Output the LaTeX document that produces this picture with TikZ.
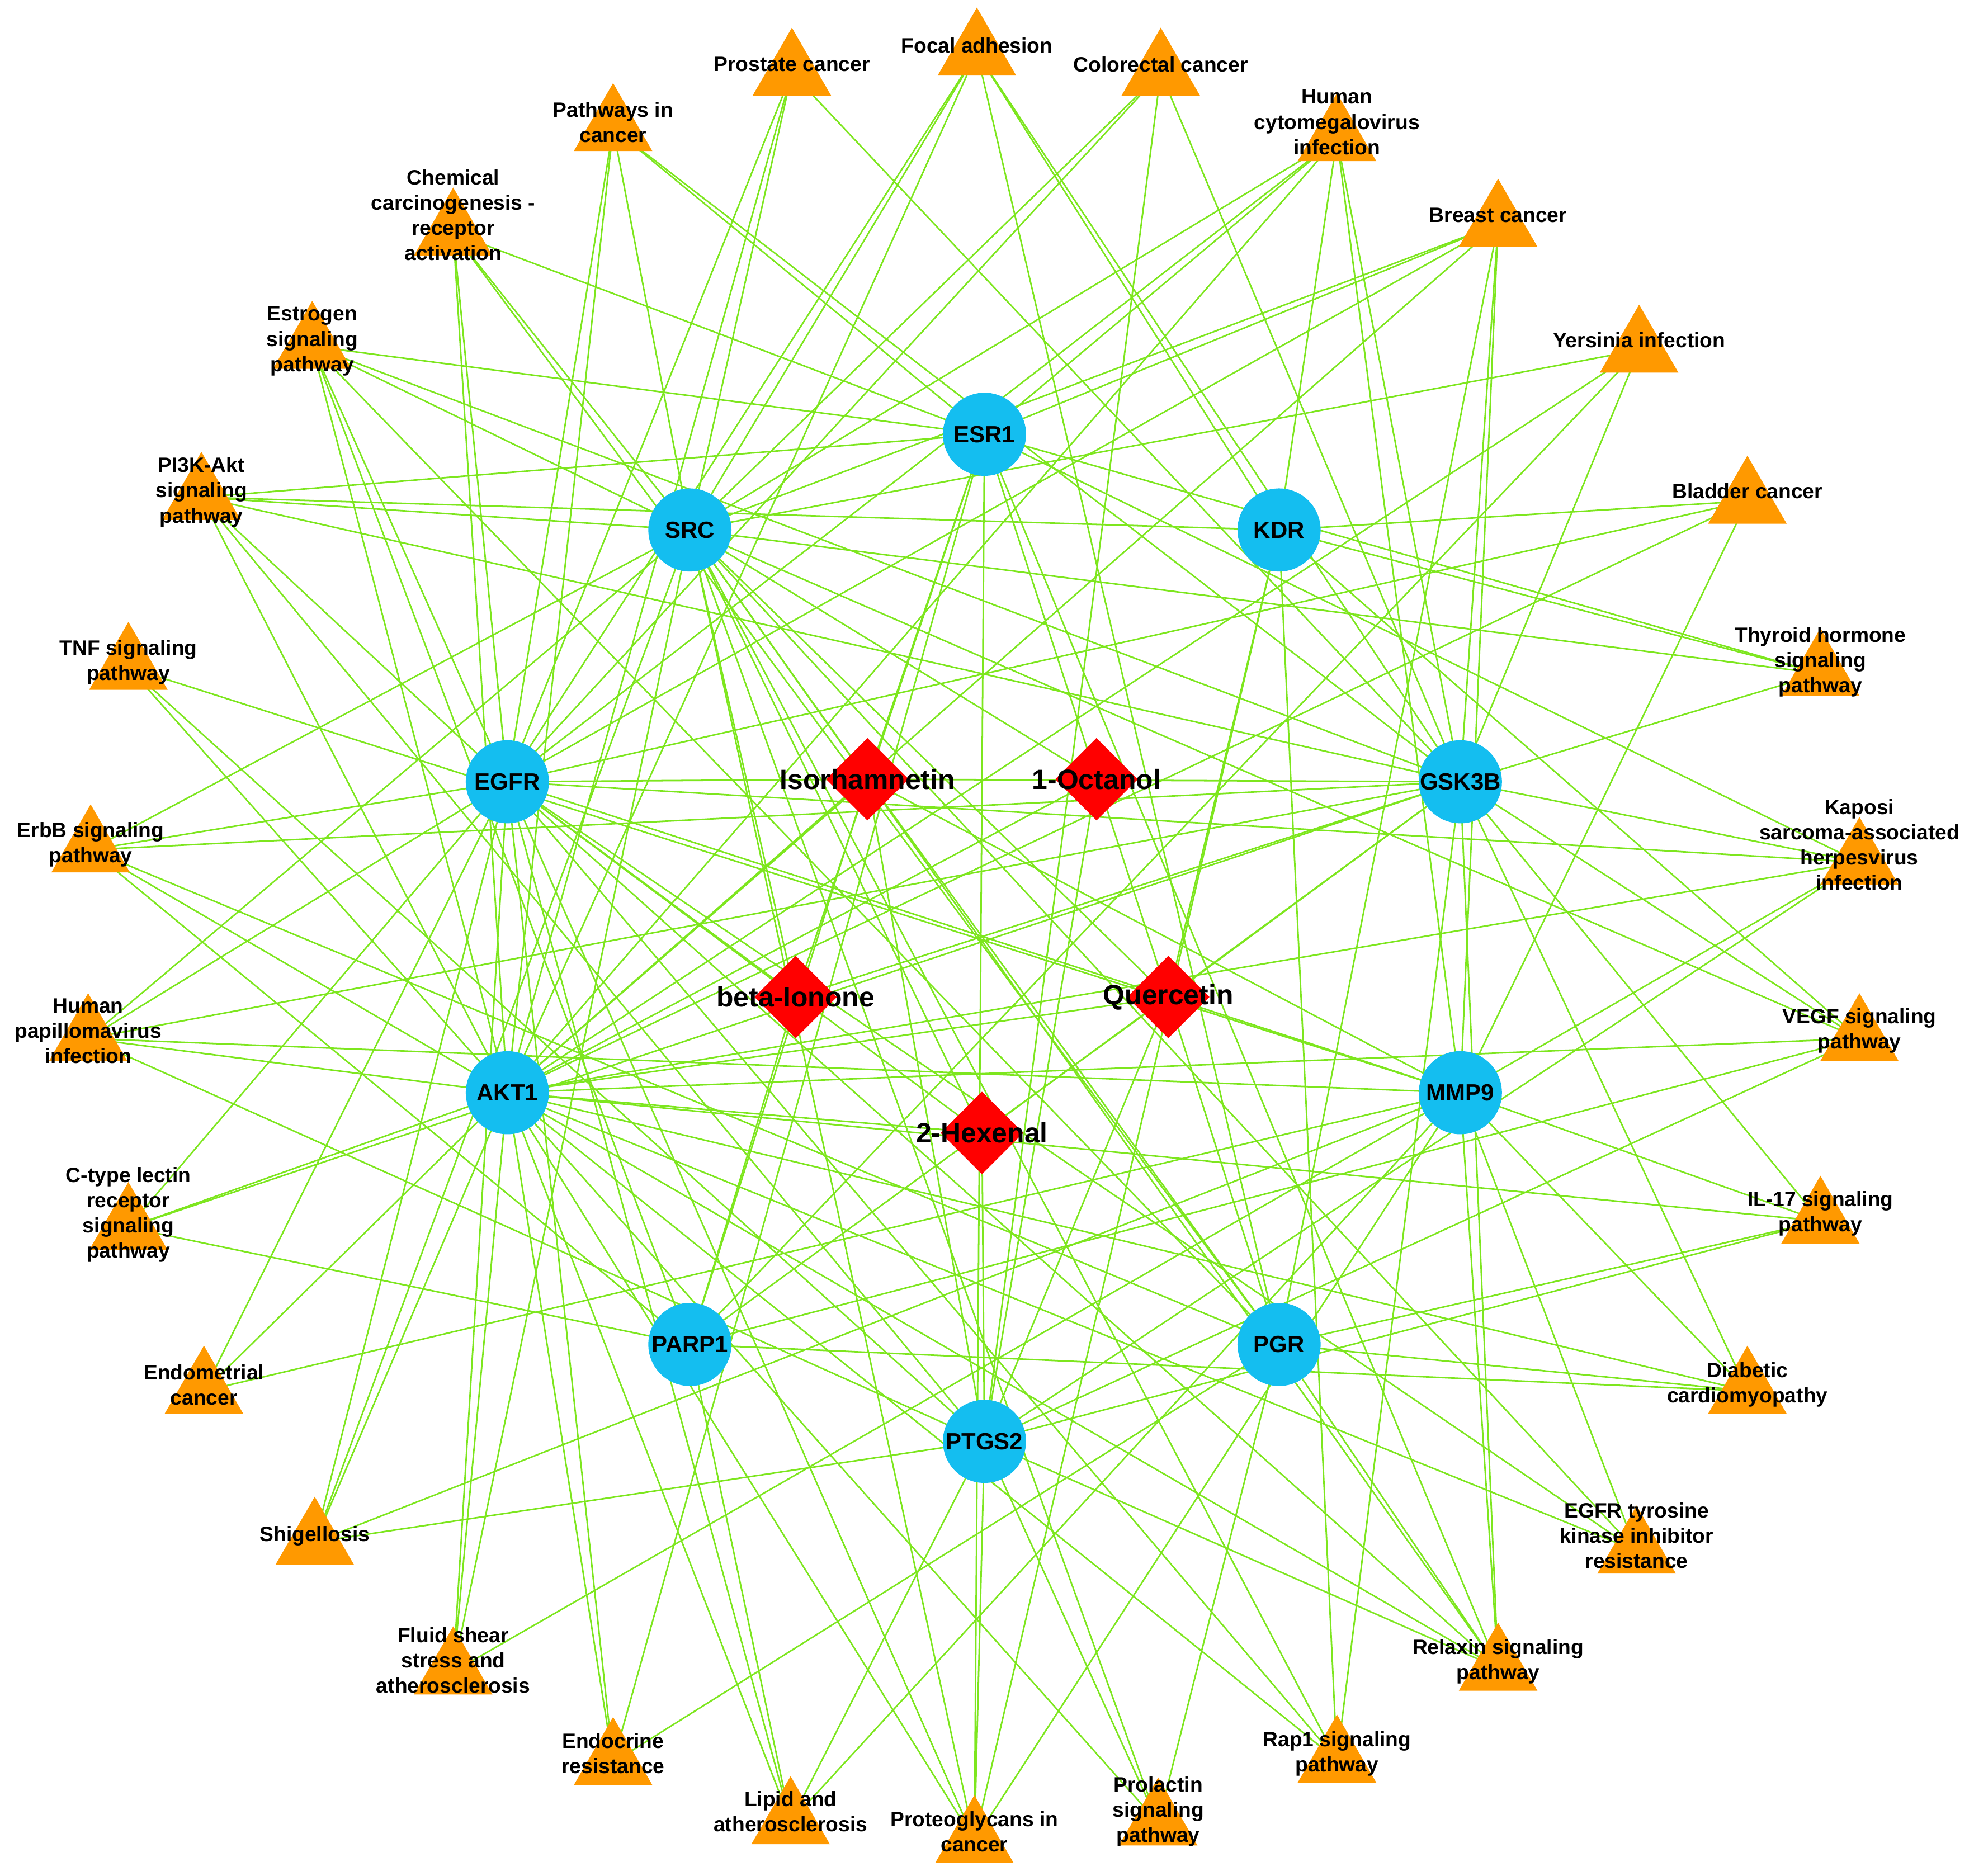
\documentclass[tikz,border=0pt]{standalone}
\usepackage{fontspec}
\setmainfont{Liberation Sans}
\usetikzlibrary{shapes.geometric,backgrounds}
\definecolor{edge}{RGB}{125,230,30}
\definecolor{tri}{RGB}{255,153,0}
\definecolor{tgt}{RGB}{20,190,240}
\definecolor{cmp}{RGB}{255,0,0}
\begin{document}
\begin{tikzpicture}[x=0.01cm,y=-0.01cm,
  pw/.style={regular polygon,regular polygon sides=3,fill=tri,draw=none,minimum size=0.72cm,inner sep=0},
  pwl/.style={font=\bfseries\fontsize{4.7}{5.7}\selectfont,align=center,text=black,inner sep=0},
  tg/.style={circle,fill=tgt,draw=none,minimum size=0.66cm,inner sep=0,font=\bfseries\fontsize{5.3}{6}\selectfont},
  cp/.style={diamond,aspect=1,fill=cmp,draw=none,minimum size=0.66cm,inner sep=0},
  cpl/.style={font=\bfseries\fontsize{6.3}{7}\selectfont,inner sep=0},
  ed/.style={edge,line width=0.35pt}]
\useasboundingbox (0,0) rectangle (1568,1490);
\newcommand\pwy[5]{\node[pw] (p#1) at (#2,#3) {}; \node[pwl] (pl#1) at (#2,#3-#4) {#5};}
\pwy{1}{776}{42}{6}{Focal adhesion}
\pwy{2}{922}{58}{7}{Colorectal cancer}
\pwy{3}{1062}{110}{13}{Human\\cytomegalovirus\\infection}
\pwy{4}{1190}{178}{7}{Breast cancer}
\pwy{5}{1302}{278}{8}{Yersinia infection}
\pwy{6}{1388}{398}{8}{Bladder cancer}
\pwy{7}{1446}{535}{9}{Thyroid hormone\\signaling\\pathway}
\pwy{8}{1477}{685}{14}{Kaposi\\sarcoma-associated\\herpesvirus\\infection}
\pwy{9}{1477}{825}{6}{VEGF signaling\\pathway}
\pwy{10}{1446}{970}{6}{IL-17 signaling\\pathway}
\pwy{11}{1388}{1105}{5}{Diabetic\\cardiomyopathy}
\pwy{12}{1300}{1232}{12}{EGFR tyrosine\\kinase inhibitor\\resistance}
\pwy{13}{1190}{1325}{5}{Relaxin signaling\\pathway}
\pwy{14}{1062}{1398}{5}{Rap1 signaling\\pathway}
\pwy{15}{920}{1448}{9}{Prolactin\\signaling\\pathway}
\pwy{16}{774}{1462}{7}{Proteoglycans in\\cancer}
\pwy{17}{628}{1447}{8}{Lipid and\\atherosclerosis}
\pwy{18}{487}{1400}{7}{Endocrine\\resistance}
\pwy{19}{360}{1328}{9}{Fluid shear\\stress and\\atherosclerosis}
\pwy{20}{250}{1225}{5}{Shigellosis}
\pwy{21}{162}{1105}{5}{Endometrial\\cancer}
\pwy{22}{102}{975}{10}{C-type lectin\\receptor\\signaling\\pathway}
\pwy{23}{70}{825}{6}{Human\\papillomavirus\\infection}
\pwy{24}{72}{675}{4}{ErbB signaling\\pathway}
\pwy{25}{102}{530}{4}{TNF signaling\\pathway}
\pwy{26}{160}{395}{4}{PI3K-Akt\\signaling\\pathway}
\pwy{27}{248}{275}{4}{Estrogen\\signaling\\pathway}
\pwy{28}{360}{185}{14}{Chemical\\carcinogenesis -\\receptor\\activation}
\pwy{29}{487}{102}{5}{Pathways in\\cancer}
\pwy{30}{629}{58}{7}{Prostate cancer}
\node[tg] (ESR1) at (782,345) {ESR1};
\node[tg] (SRC) at (548,421) {SRC};
\node[tg] (KDR) at (1016,421) {KDR};
\node[tg] (EGFR) at (403,621) {EGFR};
\node[tg] (GSK3B) at (1160,621) {GSK3B};
\node[tg] (AKT1) at (403,868) {AKT1};
\node[tg] (MMP9) at (1160,868) {MMP9};
\node[tg] (PARP1) at (548,1068) {PARP1};
\node[tg] (PGR) at (1016,1068) {PGR};
\node[tg] (PTGS2) at (782,1145) {PTGS2};
\node[cp] (Iso) at (689,619) {}; \node[cpl] at (Iso) {Isorhamnetin};
\node[cp] (Oct) at (871,619) {}; \node[cpl] at (Oct) {1-Octanol};
\node[cp] (Ion) at (632,792) {}; \node[cpl] at (Ion) {beta-Ionone};
\node[cp] (Que) at (928,792) {}; \node[cpl] at (Que) {Quercetin};
\node[cp] (Hex) at (780,900) {}; \node[cpl] at (Hex) {2-Hexenal};
\begin{scope}[on background layer]
\foreach \t/\l in {AKT1/{1,3,4,5,6,8,9,10,11,12,13,14,15,16,17,18,19,20,21,22,23,24,25,26,27,28,29,30},
 EGFR/{1,2,3,4,6,8,12,13,14,16,17,18,19,20,21,22,23,24,26,27,28,29,30},
 SRC/{1,2,3,4,5,7,9,12,13,14,15,16,19,20,23,24,26,27,28,29,30},
 GSK3B/{1,2,3,4,5,7,8,9,10,11,13,14,22,23,24,26,27,29,30},
 ESR1/{3,4,7,8,13,16,18,26,27,28,29},
 KDR/{1,3,6,7,9,14,16,26},
 MMP9/{3,4,6,8,10,11,12,13,16,17,19,20,21,23,25},
 PARP1/{5,9,11,17,22,24,27},
 PGR/{1,4,10,11,13,15,18,24,27,28},
 PTGS2/{2,8,9,10,13,15,16,17,20,23,25,26}}
 {\foreach \p in \l {\draw[ed] (\t.center) -- (p\p.center);}}
\foreach \c/\l in {Iso/{SRC,ESR1,EGFR,GSK3B,AKT1,PGR,PTGS2,PARP1,MMP9},
 Oct/{SRC,PTGS2,AKT1},
 Ion/{ESR1,EGFR,GSK3B,PARP1,SRC},
 Que/{ESR1,SRC,KDR,EGFR,GSK3B,AKT1,MMP9,PARP1,PGR,PTGS2},
 Hex/{PTGS2,AKT1,EGFR,GSK3B,SRC}}
 {\foreach \t in \l {\draw[ed] (\c.center) -- (\t.center);}}
\end{scope}
\end{tikzpicture}
\end{document}
